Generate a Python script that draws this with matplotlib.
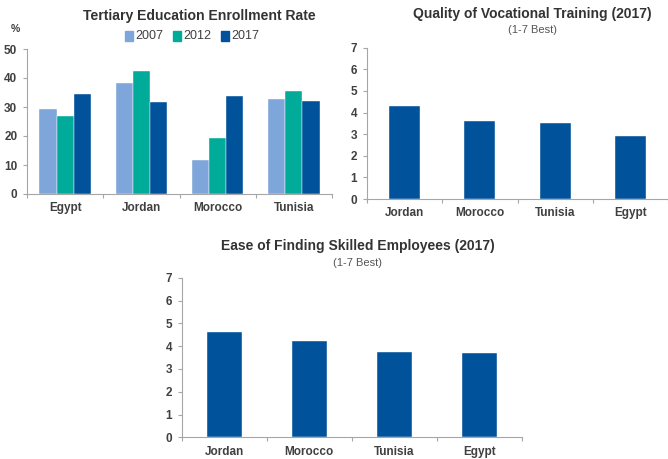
import matplotlib
matplotlib.use("Agg")
import matplotlib.pyplot as plt
import numpy as np
from matplotlib.patches import Rectangle

# ---- data ----
enroll_countries = ["Egypt", "Jordan", "Morocco", "Tunisia"]
enroll_years = ["2007", "2012", "2017"]
enroll_2007 = [29.2, 38.2, 11.7, 32.8]
enroll_2012 = [26.9, 42.4, 19.4, 35.4]
enroll_2017 = [34.4, 31.8, 33.7, 32.1]

voc_countries = ["Jordan", "Morocco", "Tunisia", "Egypt"]
voc_values = [4.32, 3.62, 3.53, 2.90]

skill_countries = ["Jordan", "Morocco", "Tunisia", "Egypt"]
skill_values = [4.62, 4.21, 3.76, 3.68]

# ---- style ----
C07 = "#7FA6DA"
C12 = "#00AB9A"
C17 = "#00529B"
AXC = "#A6A6A6"
TXT = "#404040"

W, H = 668, 459
fig = plt.figure(figsize=(W / 100, H / 100), dpi=100)

BOLDF = ["Liberation Sans Narrow", "Liberation Sans", "DejaVu Sans"]
REGF = ["Liberation Sans", "DejaVu Sans"]


def ax_px(l, r, t, b):
    return fig.add_axes([l / W, 1 - b / H, (r - l) / W, (b - t) / H])


def style(ax, n, ymax, step):
    ax.set_xlim(-0.5, n - 0.5)
    ax.set_ylim(0, ymax)
    ax.set_yticks(np.arange(0, ymax + 0.01, step))
    for s in ["top", "right"]:
        ax.spines[s].set_visible(False)
    for s in ["left", "bottom"]:
        ax.spines[s].set_color(AXC)
        ax.spines[s].set_linewidth(0.8)
    ax.set_xticks(np.arange(n))
    ax.tick_params(axis="x", length=0, pad=6)
    ax.set_xticks(np.arange(-0.5, n, 1.0), minor=True)
    ax.tick_params(axis="x", which="minor", length=3, color=AXC, width=0.8)
    ax.tick_params(axis="y", length=3, color=AXC, width=0.8, pad=4)
    for lab in ax.get_yticklabels() + ax.get_xticklabels():
        lab.set_fontfamily(BOLDF)
        lab.set_fontweight("bold")
        lab.set_fontsize(8.5)
        lab.set_color(TXT)


# Chart 1
ax1 = ax_px(27, 332, 49, 194)
x = np.arange(len(enroll_countries))
bw = 0.225
ax1.bar(x - bw, enroll_2007, bw, color=C07, edgecolor="white", linewidth=0.3)
ax1.bar(x, enroll_2012, bw, color=C12, edgecolor="white", linewidth=0.3)
ax1.bar(x + bw, enroll_2017, bw, color=C17, edgecolor="white", linewidth=0.3)
ax1.set_xticks(x)
ax1.set_xticklabels(enroll_countries)
style(ax1, 4, 50, 10)

fig.text(199 / W, 1 - 16 / H, "Tertiary Education Enrollment Rate", ha="center", va="center",
         fontsize=10.1, fontweight="bold", color="#333333", family=REGF)
fig.text(15 / W, 1 - 29 / H, "%", ha="center", va="center", fontsize=7.5, fontweight="bold",
         color=TXT, family=BOLDF)
# legend
leg_items = list(zip(enroll_years, [C07, C12, C17]))
lx = [125, 173, 221]
for (lab, col), xx in zip(leg_items, lx):
    fig.patches.append(Rectangle((xx / W, 1 - 40.5 / H), 8 / W, 9 / H, transform=fig.transFigure,
                                 color=col, figure=fig))
    fig.text((xx + 10) / W, 1 - 36 / H, lab, ha="left", va="center", fontsize=9,
             color=TXT, family=REGF)

# Chart 2
ax2 = ax_px(367, 668, 47.7, 199)
ax2.bar(np.arange(len(voc_countries)), voc_values, 0.41, color=C17, edgecolor="white", linewidth=0.3)
ax2.set_xticks(np.arange(len(voc_countries)))
ax2.set_xticklabels(voc_countries)
style(ax2, 4, 7, 1)
fig.text(532 / W, 1 - 14 / H, "Quality of Vocational Training (2017)", ha="center", va="center",
         fontsize=10, fontweight="bold", color="#333333", family=REGF)
fig.text(532 / W, 1 - 30 / H, "(1-7 Best)", ha="center", va="center",
         fontsize=8, color="#555555", family=REGF)

# Chart 3
ax3 = ax_px(181.7, 521.7, 277.7, 437.3)
ax3.bar(np.arange(len(skill_countries)), skill_values, 0.41, color=C17, edgecolor="white", linewidth=0.3)
ax3.set_xticks(np.arange(len(skill_countries)))
ax3.set_xticklabels(skill_countries)
style(ax3, 4, 7, 1)
fig.text(357.5 / W, 1 - 246 / H, "Ease of Finding Skilled Employees (2017)", ha="center", va="center",
         fontsize=10, fontweight="bold", color="#333333", family=REGF)
fig.text(357.5 / W, 1 - 263 / H, "(1-7 Best)", ha="center", va="center",
         fontsize=8, color="#555555", family=REGF)

fig.savefig("out.png", dpi=100, facecolor="white")
